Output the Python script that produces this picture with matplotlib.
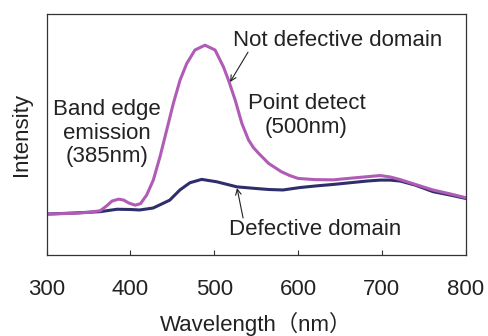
import matplotlib
matplotlib.use("Agg")
import matplotlib.pyplot as plt

plt.rcParams['font.family'] = ['Liberation Sans', 'Noto Sans CJK JP', 'DejaVu Sans']

# Not defective domain (magenta) - wavelength (nm), intensity (a.u.)
wl_good = [300, 330, 350, 364, 372, 378, 386, 392, 398, 405.6, 412, 419.4, 427.3,
           435.3, 443.3, 451.2, 459.2, 467.2, 477, 489, 501, 511, 517, 525, 533,
           541, 547, 553, 565, 580, 590, 600, 620, 642, 660, 682, 698,
           710, 722, 740, 761, 780, 800]
int_good = [17.0, 17.3, 17.7, 18.4, 20.5, 22.4, 23.2, 22.8, 21.6, 20.7, 21.3, 24.9, 31.1,
            40.8, 51.9, 62.9, 72.6, 79.5, 85.1, 87.1, 85.1, 78.1, 72.6, 64.3, 54.6,
            47.7, 44.5, 42.2, 38.0, 34.6, 33.0, 31.8, 31.3, 31.2, 31.8, 32.5, 33.0,
            32.4, 31.3, 29.3, 27.0, 25.5, 23.8]

# Defective domain (navy)
wl_bad = [300, 330, 364, 384, 400, 411, 427, 435, 447, 459, 471, 485, 503, 527,
          547, 565, 582, 602, 622, 642, 662, 682, 698, 710, 722, 740, 761, 780, 800]
int_bad = [17.0, 17.4, 18.0, 19.0, 18.9, 18.7, 19.5, 20.8, 22.8, 27.0, 30.0, 31.4, 30.4, 28.3,
           27.7, 27.2, 27.0, 28.0, 28.7, 29.3, 30.0, 30.7, 31.1, 31.1, 30.7, 29.0, 26.3, 25.0, 23.5]

xticks = [300, 400, 500, 600, 700, 800]

fig = plt.figure(figsize=(4.89, 3.36), dpi=100)
ax = fig.add_axes([0.0953, 0.241, 0.857, 0.717])

ax.plot(wl_bad, int_bad, color='#2e2e6c', lw=2.2)
ax.plot(wl_good, int_good, color='#b05cb6', lw=2.2)

ax.set_xlim(300, 800)
ax.set_ylim(0, 100)
ax.set_xticks(xticks)
ax.set_yticks([])
fs = 16
ax.tick_params(axis='x', direction='in', length=3.6, width=0.8, pad=17,
               labelsize=fs, colors='#333333', labelcolor='#222222')
for s in ax.spines.values():
    s.set_color('#333333')
    s.set_linewidth(0.9)

ax.set_xlabel('Wavelength（nm）', fontsize=fs, color='#222222', va='top')
ax.xaxis.set_label_coords(0.5, -0.235)
ax.set_ylabel('Intensity', fontsize=fs, color='#222222')
ax.yaxis.set_label_coords(-0.035, 0.5)

ax.text(372, 50.6, 'Band edge\nemission\n(385nm)', ha='center', va='center',
        fontsize=fs, color='#222222', linespacing=1.15)
ax.text(610, 57.9, 'Point detect\n(500nm)', ha='center', va='center',
        fontsize=fs, color='#222222', linespacing=1.15)
ax.text(647.7, 89.2, 'Not defective domain', ha='center', va='center',
        fontsize=fs, color='#222222')
ax.text(620.3, 10.4, 'Defective domain', ha='center', va='center',
        fontsize=fs, color='#222222')

arrow = dict(arrowstyle='->', color='#222222', lw=0.8, shrinkA=0, shrinkB=0)
ax.annotate('', xy=(518.9, 71.8), xytext=(540.3, 84.2), arrowprops=arrow)
ax.annotate('', xy=(527.2, 27.8), xytext=(534.4, 15.4), arrowprops=arrow)

fig.savefig('out.png', dpi=100)
